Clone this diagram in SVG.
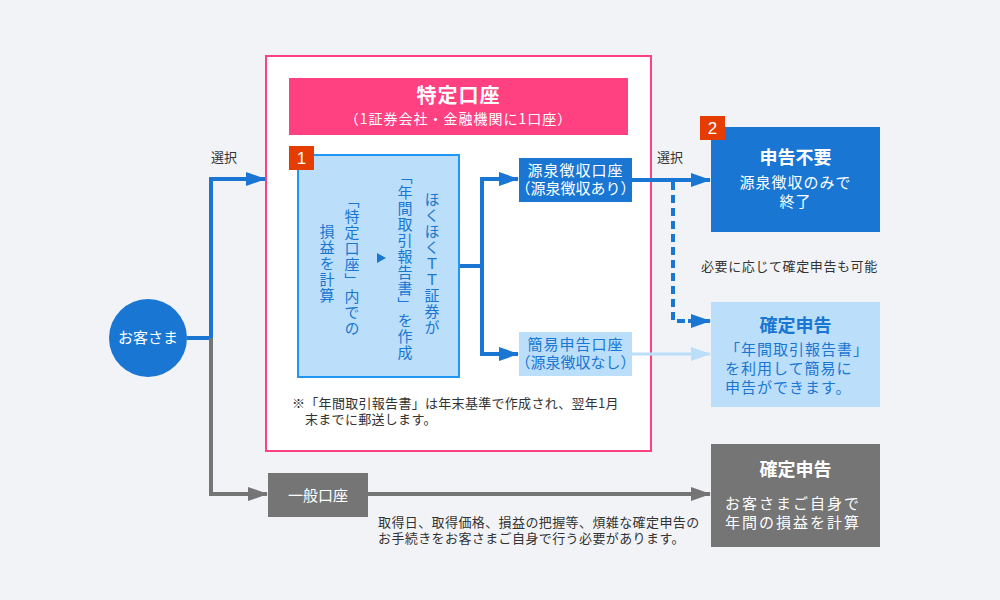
<svg xmlns="http://www.w3.org/2000/svg" width="1000" height="600" viewBox="0 0 1000 600">
<defs>
<style>
text{font-family:"Noto Sans CJK JP","Noto Sans",sans-serif;}
.w{fill:#fff;}
.b{fill:#1976d2;}
.k{fill:#333;font-size:13px;}
.c{text-anchor:middle;}
.t{font-weight:bold;font-size:18px;}
.m{font-size:15px;}
.vt{font-size:15px;fill:#1976d2;writing-mode:vertical-rl;text-anchor:middle;letter-spacing:1px;}
.badge{fill:#e53d00;}
.bn{fill:#fff;font-size:17px;text-anchor:middle;font-family:"Liberation Sans",sans-serif;}
</style>
<marker id="ab" markerUnits="userSpaceOnUse" markerWidth="20" markerHeight="14" refX="19" refY="7" orient="auto"><path d="M0,0 L20,7 L0,14 z" fill="#1976d2"/></marker>
<marker id="ag" markerUnits="userSpaceOnUse" markerWidth="20" markerHeight="14" refX="19" refY="7" orient="auto"><path d="M0,0 L20,7 L0,14 z" fill="#757575"/></marker>
<marker id="al" markerUnits="userSpaceOnUse" markerWidth="20" markerHeight="14" refX="19" refY="7" orient="auto"><path d="M0,0 L20,7 L0,14 z" fill="#bbdefb"/></marker>
</defs>
<rect x="0" y="0" width="1000" height="600" fill="#f2f3f7"/>

<g id="frame">
<rect x="266" y="56" width="385" height="395" fill="#fff" stroke="#ff4081" stroke-width="2"/>
<rect x="289" y="78" width="339" height="57" fill="#ff4081"/>
<text x="458.5" y="103" class="w c" font-size="20" font-weight="bold" letter-spacing="1">特定口座</text>
<text x="458.5" y="124" class="w c" font-size="14" letter-spacing="1">（1証券会社・金融機関に1口座）</text>
<text x="292" y="408" class="k" letter-spacing="0.3">※「年間取引報告書」は年末基準で作成され、翌年1月</text>
<text x="305" y="424" class="k" letter-spacing="0.3">末までに郵送します。</text>
</g>

<g id="connectors" fill="none">
<path d="M187,338 H211 V179 H265" stroke="#1976d2" stroke-width="4" marker-end="url(#ab)"/>
<path d="M211,338 V494 H267" stroke="#757575" stroke-width="4" marker-end="url(#ag)"/>
<path d="M459,266 H482" stroke="#1976d2" stroke-width="4"/>
<path d="M482,266 V179 H518" stroke="#1976d2" stroke-width="4" marker-end="url(#ab)"/>
<path d="M482,266 V354 H518" stroke="#1976d2" stroke-width="4" marker-end="url(#ab)"/>
<path d="M632,180 H710" stroke="#1976d2" stroke-width="4" marker-end="url(#ab)"/>
<path d="M673,182 V321 H690" stroke="#1976d2" stroke-width="4" stroke-dasharray="8,5"/>
<path d="M688,321 H710" stroke="#1976d2" stroke-width="4" marker-end="url(#ab)"/>
<path d="M632,354 H710" stroke="#bbdefb" stroke-width="3" marker-end="url(#al)"/>
<path d="M368,494 H710" stroke="#757575" stroke-width="4" marker-end="url(#ag)"/>
<text x="211" y="162" class="k">選択</text>
<text x="657" y="162" class="k">選択</text>
<text x="701" y="271" class="k" letter-spacing="0.6">必要に応じて確定申告も可能</text>
<text x="378" y="527" class="k" letter-spacing="0.4">取得日、取得価格、損益の把握等、煩雑な確定申告の</text>
<text x="378" y="543" class="k" letter-spacing="0.4">お手続きをお客さまご自身で行う必要があります。</text>
</g>

<g id="customer">
<circle cx="148" cy="338" r="39" fill="#1976d2"/>
<text x="148" y="343" class="w c m">お客さま</text>
</g>

<g id="box1">
<rect x="298" y="155" width="161" height="222" fill="#bbdefb" stroke="#2196f3" stroke-width="2"/>
<rect x="289" y="146" width="25" height="24" class="badge"/>
<text x="301.5" y="164" class="bn">1</text>
<text x="432" y="264" class="vt">ほくほくＴＴ証券が</text>
<text x="405" y="265" class="vt">「年間取引報告書」を作成</text>
<polygon points="377,253 386,258 377,263" fill="#1976d2"/>
<text x="352" y="265" class="vt">「特定口座」内での</text>
<text x="327" y="264" class="vt">損益を計算</text>
</g>

<g id="gensen">
<rect x="519" y="158" width="113" height="44" fill="#1976d2"/>
<text x="575.5" y="176" class="w c m" letter-spacing="1">源泉徴収口座</text>
<text x="575.5" y="194" class="w c m">（源泉徴収あり）</text>
</g>

<g id="kanni">
<rect x="519" y="332" width="113" height="44" fill="#bbdefb"/>
<text x="575.5" y="350" class="b c m" letter-spacing="1">簡易申告口座</text>
<text x="575.5" y="368" class="b c m">（源泉徴収なし）</text>
</g>

<g id="fuyou">
<rect x="711" y="127" width="169" height="105" fill="#1976d2"/>
<rect x="700" y="116" width="25" height="24" class="badge"/>
<text x="712.5" y="134" class="bn">2</text>
<text x="795.5" y="164" class="w c t">申告不要</text>
<text x="795.5" y="188" class="w c m" letter-spacing="1">源泉徴収のみで</text>
<text x="795.5" y="207" class="w c m" letter-spacing="1">終了</text>
</g>

<g id="kakutei1">
<rect x="711" y="302" width="169" height="105" fill="#bbdefb"/>
<text x="795.5" y="332" class="b c t">確定申告</text>
<text x="725" y="355" class="b m" letter-spacing="1">「年間取引報告書」</text>
<text x="725" y="374" class="b m" letter-spacing="1">を利用して簡易に</text>
<text x="725" y="393" class="b m" letter-spacing="1">申告ができます。</text>
</g>

<g id="ippan">
<rect x="268" y="473" width="100" height="44" fill="#757575"/>
<text x="318" y="501" class="w c m">一般口座</text>
</g>

<g id="kakutei2">
<rect x="711" y="444" width="169" height="103" fill="#757575"/>
<text x="795.5" y="476" class="w c t">確定申告</text>
<text x="725" y="509" class="w m" letter-spacing="2">お客さまご自身で</text>
<text x="725" y="528" class="w m" letter-spacing="2">年間の損益を計算</text>
</g>
</svg>
